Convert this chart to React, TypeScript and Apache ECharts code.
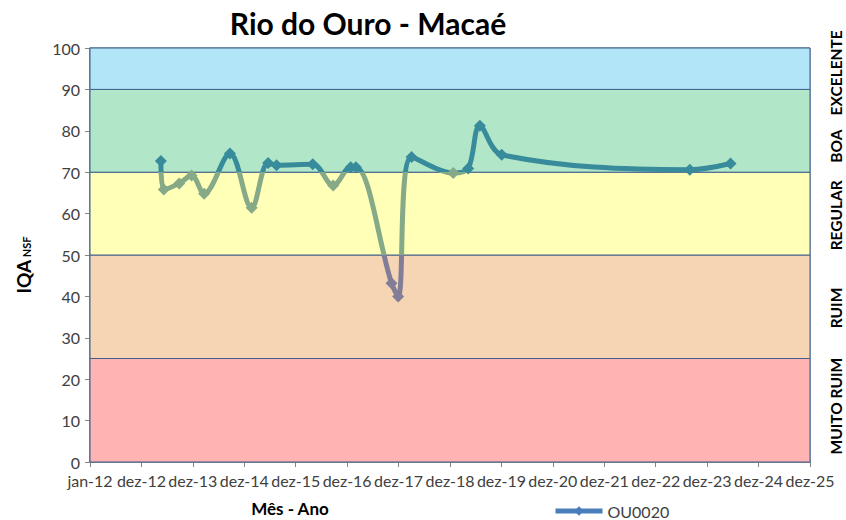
import React, { useEffect, useRef } from "react";
import * as echarts from "echarts";

const TITLE = "Rio do Ouro - Macaé";
const SERIES_NAME = "OU0020";
const sampleDates = [
  "2013-05-18", "2013-06-08", "2013-09-25", "2013-12-22", "2014-03-21",
  "2014-09-20", "2015-02-21", "2015-06-18", "2015-08-17", "2016-04-30",
  "2016-09-22", "2017-01-24", "2017-03-02", "2017-11-10", "2017-12-27",
  "2018-04-01", "2019-01-22", "2019-05-08", "2019-07-30", "2020-01-01",
  "2023-08-28", "2024-06-12",
];
const iqaValues = [
  72.7, 65.8, 67.3, 69.2, 64.8,
  74.5, 61.4, 72.2, 71.7, 71.9,
  66.8, 71.2, 71.2, 43.2, 40.0,
  73.7, 69.8, 70.9, 81.2, 74.2,
  70.6, 72.1,
];
const monthsPt = ["jan", "fev", "mar", "abr", "mai", "jun", "jul", "ago", "set", "out", "nov", "dez"];
const bandRanges = [
  [0, 25],
  [25, 50],
  [50, 70],
  [70, 90],
  [90, 100],
];
const bandColors = ["#FFB3B3", "#F6D5B5", "#FFFFB7", "#B1E6C9", "#B2E5F7"];
const classLabels = ["MUITO RUIM", "RUIM", "REGULAR", "BOA", "EXCELENTE"];
const classLabelValues = [13.5, 37.2, 59.6, 76.3, 94];

const ORIGIN = Date.UTC(2012, 0, 1);
const DAY = 86400000;
const toDays = (s: string) => {
  const [y, m, d] = s.split("-").map(Number);
  return Math.round((Date.UTC(y, m - 1, d) - ORIGIN) / DAY);
};

const GRID = { left: 90, right: 36, top: 48, bottom: 58 };
const W = 846;
const H = 520;

export default function App() {
  const ref = useRef<HTMLDivElement>(null);
  useEffect(() => {
    if (!ref.current) return;
    const chart = echarts.init(ref.current, undefined, { renderer: "svg" });
    const font = "Lato, 'Liberation Sans', sans-serif";
    const plotH = H - GRID.top - GRID.bottom;
    const yPix = (v: number) => GRID.top + ((100 - v) / 100) * plotH;

    const data = sampleDates.map((d, i) => [toDays(d), iqaValues[i]]);

    chart.setOption({
      animation: false,
      textStyle: { fontFamily: font },
      title: {
        text: TITLE,
        left: 363,
        textAlign: "center",
        top: 3,
        textStyle: { fontSize: 30, fontWeight: "bold", color: "#000", fontFamily: font },
      },
      grid: {
        left: GRID.left,
        right: GRID.right,
        top: GRID.top,
        bottom: GRID.bottom,
        containLabel: false,
        outerBoundsMode: "none",
        show: true,
        borderColor: "#3F5F8A",
        borderWidth: 1,
      },
      legend: {
        top: 503,
        left: 553,
        padding: 0,
        itemWidth: 47,
        itemHeight: 12,
        itemGap: 4,
        textStyle: { fontSize: 16, color: "#404040", fontFamily: font },
        data: [
          {
            name: SERIES_NAME,
            itemStyle: { color: "#4A7EBB" },
            lineStyle: { color: "#4A7EBB", width: 5 },
          },
        ],
      },
      visualMap: {
        type: "piecewise",
        show: false,
        dimension: 1,
        seriesIndex: 0,
        pieces: [
          { lt: 50, color: "#827E97" },
          { gte: 50, lt: 70, color: "#86A987" },
          { gte: 70, color: "#388B9B" },
        ],
      },
      xAxis: {
        type: "value",
        min: 0,
        max: 14 * 365,
        interval: 365,
        name: "Mês - Ano",
        nameLocation: "middle",
        nameGap: 38,
        nameTextStyle: { fontSize: 17, fontWeight: "bold", color: "#000", padding: [0, 320, 0, 0] },
        axisLine: { show: true, lineStyle: { color: "#868686", width: 1.5 } },
        axisTick: { show: true, length: 5, lineStyle: { color: "#868686" } },
        splitLine: { show: false },
        axisLabel: {
          fontSize: 16,
          color: "#404040",
          margin: 10,
          hideOverlap: false,
          showMinLabel: true,
          showMaxLabel: true,
          formatter: (v: number) => {
            const d = new Date(ORIGIN + v * DAY);
            return monthsPt[d.getUTCMonth()] + "-" + String(d.getUTCFullYear()).slice(2);
          },
        },
      },
      yAxis: {
        type: "value",
        min: 0,
        max: 100,
        interval: 10,
        name: "{a|IQA}{b| NSF}",
        nameLocation: "middle",
        nameRotate: 90,
        nameGap: 57,
        nameTextStyle: {
          padding: [0, 20, 0, 0],
          rich: {
            a: { fontSize: 19, fontWeight: "bold", color: "#000", fontFamily: font },
            b: { fontSize: 11, fontWeight: "bold", color: "#000", fontFamily: font, padding: [6, 0, 0, 0] },
          },
        },
        axisLine: { show: true, lineStyle: { color: "#868686", width: 1.5 } },
        axisTick: { show: true, length: 5, lineStyle: { color: "#868686" } },
        splitLine: { show: false },
        axisLabel: { fontSize: 16, color: "#404040", margin: 10 },
      },
      graphic: classLabels.map((t, i) => ({
        type: "text",
        x: 836,
        y: yPix(classLabelValues[i]),
        rotation: Math.PI / 2,
        style: {
          text: t,
          fontSize: 15.5,
          fontWeight: "bold",
          fill: "#000",
          fontFamily: font,
          textAlign: "center",
          textVerticalAlign: "middle",
        },
      })),
      series: [
        {
          name: SERIES_NAME,
          type: "line",
          data,
          smooth: 0.35,
          symbol: "diamond",
          symbolSize: 12,
          lineStyle: { width: 5 },
          z: 5,
          markArea: {
            silent: true,
            itemStyle: { borderColor: "#3F5F8A", borderWidth: 1 },
            data: bandRanges.map((r, i) => [
              { yAxis: r[0], itemStyle: { color: bandColors[i], borderColor: "#3F5F8A", borderWidth: 1 } },
              { yAxis: r[1] },
            ]),
          },
        },
      ],
    });
    return () => chart.dispose();
  }, []);
  return <div ref={ref} style={{ width: W, height: H, position: "absolute", left: 0, top: 0 }} />;
}
